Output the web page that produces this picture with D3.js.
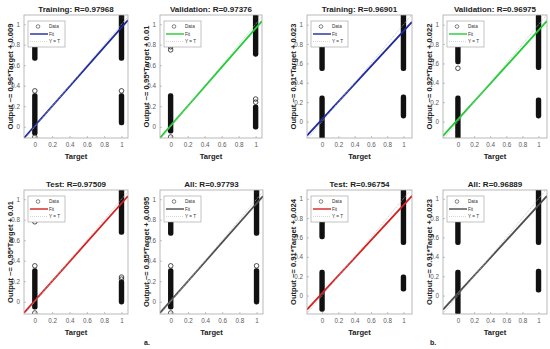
<!DOCTYPE html>
<html>
<head>
<meta charset="utf-8">
<script src="https://cdn.jsdelivr.net/npm/d3@7"></script>
<style>
  body { margin: 0; background: #fff; }
  svg { font-family: "Liberation Sans", Arial, sans-serif; display: block; }
</style>
</head>
<body>
<svg id="chart" width="550" height="349"></svg>
<script>
// values, one entry per panel (a: 4 panels, then b: 4 panels)
const panelNames = ["Training", "Validation", "Test", "All", "Training", "Validation", "Test", "All"];
const rValues = ["0.97968", "0.97376", "0.97509", "0.97793", "0.96901", "0.96975", "0.96754", "0.96889"];
const slopes = ["0.96", "0.95", "0.95", "0.95", "0.91", "0.92", "0.91", "0.91"];
const intercepts = ["0.009", "0.01", "0.01", "0.0095", "0.023", "0.022", "0.024", "0.023"];
const tickValues = [0, 0.2, 0.4, 0.6, 0.8, 1];
const tickLabels = ["0", "0.2", "0.4", "0.6", "0.8", "1"];
const targetLimits = [[-0.125, 1.075], [-0.125, 1.075], [-0.125, 1.075], [-0.125, 1.075],
                      [-0.185, 1.105], [-0.185, 1.105], [-0.185, 1.105], [-0.185, 1.105]];
const outputLimits = [[-0.11, 1.09], [-0.11, 1.09], [-0.12, 1.09], [-0.12, 1.09],
                      [-0.17, 1.10], [-0.17, 1.10], [-0.19, 1.09], [-0.19, 1.09]];

// runs of overlapping circles: [target, lowest output, highest output]
const denseRuns = [
  [[0, -0.06, 0.30], [0, 0.67, 0.78], [1, 0.67, 1.07], [1, 0.04, 0.30]],
  [[0, -0.04, 0.30], [1, 0.71, 1.07], [1, 0.00, 0.19]],
  [[0, -0.05, 0.30], [1, 0.68, 1.07], [1, 0.00, 0.19]],
  [[0, -0.05, 0.30], [0, 0.67, 0.80], [1, 0.67, 1.07], [1, 0.00, 0.30]],
  [[0, -0.17, 0.24], [0, 0.55, 0.77], [1, 0.55, 1.09], [1, 0.06, 0.25]],
  [[0, -0.17, 0.24], [0, 0.62, 0.77], [1, 0.56, 1.08], [1, 0.06, 0.22]],
  [[0, -0.14, 0.24], [0, 0.61, 0.77], [1, 0.55, 1.09], [1, 0.07, 0.19]],
  [[0, -0.17, 0.24], [0, 0.55, 0.77], [1, 0.55, 1.09], [1, 0.06, 0.25]]
];
// single circles standing apart: [target, output]
const loneOutputs = [
  [[0, 0.35], [0, -0.10], [0, 0.80], [1, 0.35], [1, 1.08]],
  [[0, -0.10], [0, 0.75], [0, 0.78], [1, 0.24], [1, 0.27], [1, 1.08]],
  [[0, 0.35], [0, -0.11], [0, 0.78], [1, 0.22], [1, 0.24], [1, 1.08]],
  [[0, 0.35], [0, -0.11], [1, 0.35], [1, 1.08]],
  [],
  [[0, 0.55]],
  [],
  []
];
const groupLabels = ["a.", "b."];

// layout / styles
const boxes = [
  [24, 128, 15, 138], [160, 262, 15, 138], [24, 128, 190, 314], [160, 263, 190, 314],
  [307, 412, 15, 138], [443, 547, 15, 138], [307, 412, 190, 314], [443, 547, 190, 314]
];
const fitColors = ["#1f2a9e", "#21cc35", "#d42020", "#4d4d4d", "#1f2a9e", "#21cc35", "#d42020", "#4d4d4d"];
const groupLabelPos = [[144, 345], [430, 345]];

const svg = d3.select("#chart");
const r = 2.3;

panelNames.forEach((name, i) => {
    const [x0, x1, y0, y1] = boxes[i]
    const x = d3.scaleLinear().domain(targetLimits[i]).range([x0, x1])
    const y = d3.scaleLinear().domain(outputLimits[i]).range([y1, y0])
    const g = svg.append("g")

    g.append("clipPath").attr("id", "clip" + i)
      .append("rect").attr("x", x0).attr("y", y0).attr("width", x1 - x0).attr("height", y1 - y0)

    g.append("rect")
        .attr("x", x0).attr("y", y0)
        .attr("width", x1 - x0).attr("height", y1 - y0)
        .attr("fill", "#fff")

    // axes
    const xAxis = g.append("g")
        .attr("transform", `translate(0,${y1})`)
        .call(d3.axisBottom(x).tickValues(tickValues).tickFormat((d, k) => tickLabels[k])
            .tickSizeInner(-2).tickSizeOuter(0).tickPadding(5))
    const yAxis = g.append("g")
        .attr("transform", `translate(${x0},0)`)
        .call(d3.axisLeft(y).tickValues(tickValues).tickFormat((d, k) => tickLabels[k])
            .tickSizeInner(-2).tickSizeOuter(0).tickPadding(4))
    ;[xAxis, yAxis].forEach(a => {
        a.select(".domain").remove()
        a.selectAll("line").attr("stroke", "#9a9a9a").attr("stroke-width", 0.6)
        a.selectAll("text").attr("fill", "#5a5a5a").style("font-size", "6.3px")
    })

    const plot = g.append("g").attr("clip-path", `url(#clip${i})`)

    // data circles
    plot.selectAll("rect.run")
      .data(denseRuns[i])
      .enter()
      .append("rect")
        .attr("class", "run")
        .attr("x", d => x(d[0]) - r - 0.4)
        .attr("y", d => y(d[2]) - r - 0.4)
        .attr("width", 2 * r + 0.8)
        .attr("height", d => y(d[1]) - y(d[2]) + 2 * r + 0.8)
        .attr("rx", r).attr("ry", r)
        .attr("fill", "#111")
    plot.selectAll("circle.lone")
      .data(loneOutputs[i])
      .enter()
      .append("circle")
        .attr("class", "lone")
        .attr("cx", d => x(d[0]))
        .attr("cy", d => y(d[1]))
        .attr("r", r)
        .attr("fill", "none")
        .attr("stroke", "#222")
        .attr("stroke-width", 0.8)

    // fit line and Y = T
    const m = +slopes[i], b = +intercepts[i]
    const [t0, t1] = targetLimits[i]
    plot.append("line")
        .attr("x1", x(t0)).attr("y1", y(m * t0 + b))
        .attr("x2", x(t1)).attr("y2", y(m * t1 + b))
        .attr("stroke", fitColors[i]).attr("stroke-width", 1.8)
    plot.append("line")
        .attr("x1", x(t0)).attr("y1", y(t0))
        .attr("x2", x(t1)).attr("y2", y(t1))
        .attr("stroke", "#bbb").attr("stroke-width", 0.8).attr("stroke-dasharray", "1,1")

    g.append("rect")
        .attr("x", x0).attr("y", y0)
        .attr("width", x1 - x0).attr("height", y1 - y0)
        .attr("fill", "none").attr("stroke", "#a8a8a8").attr("stroke-width", 0.8)

    // legend
    const lx = x0 + 4, ly = y0 + 6
    const leg = g.append("g")
    leg.append("rect")
        .attr("x", lx).attr("y", ly).attr("width", 37).attr("height", 26)
        .attr("fill", "#fff").attr("stroke", "#9a9a9a").attr("stroke-width", 0.6)
    leg.append("circle")
        .attr("cx", lx + 10).attr("cy", ly + 5.5).attr("r", 1.8)
        .attr("fill", "none").attr("stroke", "#333").attr("stroke-width", 0.6)
    leg.append("line")
        .attr("x1", lx + 2).attr("x2", lx + 20).attr("y1", ly + 13).attr("y2", ly + 13)
        .attr("stroke", fitColors[i]).attr("stroke-width", 1.4)
    leg.append("line")
        .attr("x1", lx + 2).attr("x2", lx + 20).attr("y1", ly + 20.5).attr("y2", ly + 20.5)
        .attr("stroke", "#bbb").attr("stroke-width", 0.6).attr("stroke-dasharray", "1,1")
    ;["Data", "Fit", "Y = T"].forEach((t, k) => {
        leg.append("text")
            .attr("x", lx + 21).attr("y", ly + 7.2 + k * 7.5)
            .style("font-size", "4.6px").attr("fill", "#333")
            .text(t)
    })

    // titles
    g.append("text")
        .attr("x", (x0 + x1) / 2).attr("y", y0 - 3.5)
        .attr("text-anchor", "middle")
        .style("font-size", "8px").style("font-weight", "bold").attr("fill", "#222")
        .text(`${name}: R=${rValues[i]}`)
    g.append("text")
        .attr("x", (x0 + x1) / 2).attr("y", y1 + 21)
        .attr("text-anchor", "middle")
        .style("font-size", "7.6px").style("font-weight", "bold").attr("fill", "#222")
        .text("Target")
    g.append("text")
        .attr("transform", `translate(${x0 - 11},${(y0 + y1) / 2}) rotate(-90)`)
        .attr("text-anchor", "middle")
        .style("font-size", "7.6px").style("font-weight", "bold").attr("fill", "#222")
        .text(`Output ~= ${slopes[i]}*Target + ${intercepts[i]}`)
})

groupLabels.forEach((t, k) => {
    svg.append("text")
        .attr("x", groupLabelPos[k][0]).attr("y", groupLabelPos[k][1])
        .style("font-size", "7px").style("font-weight", "bold").attr("fill", "#222")
        .text(t)
})
</script>
</body>
</html>
